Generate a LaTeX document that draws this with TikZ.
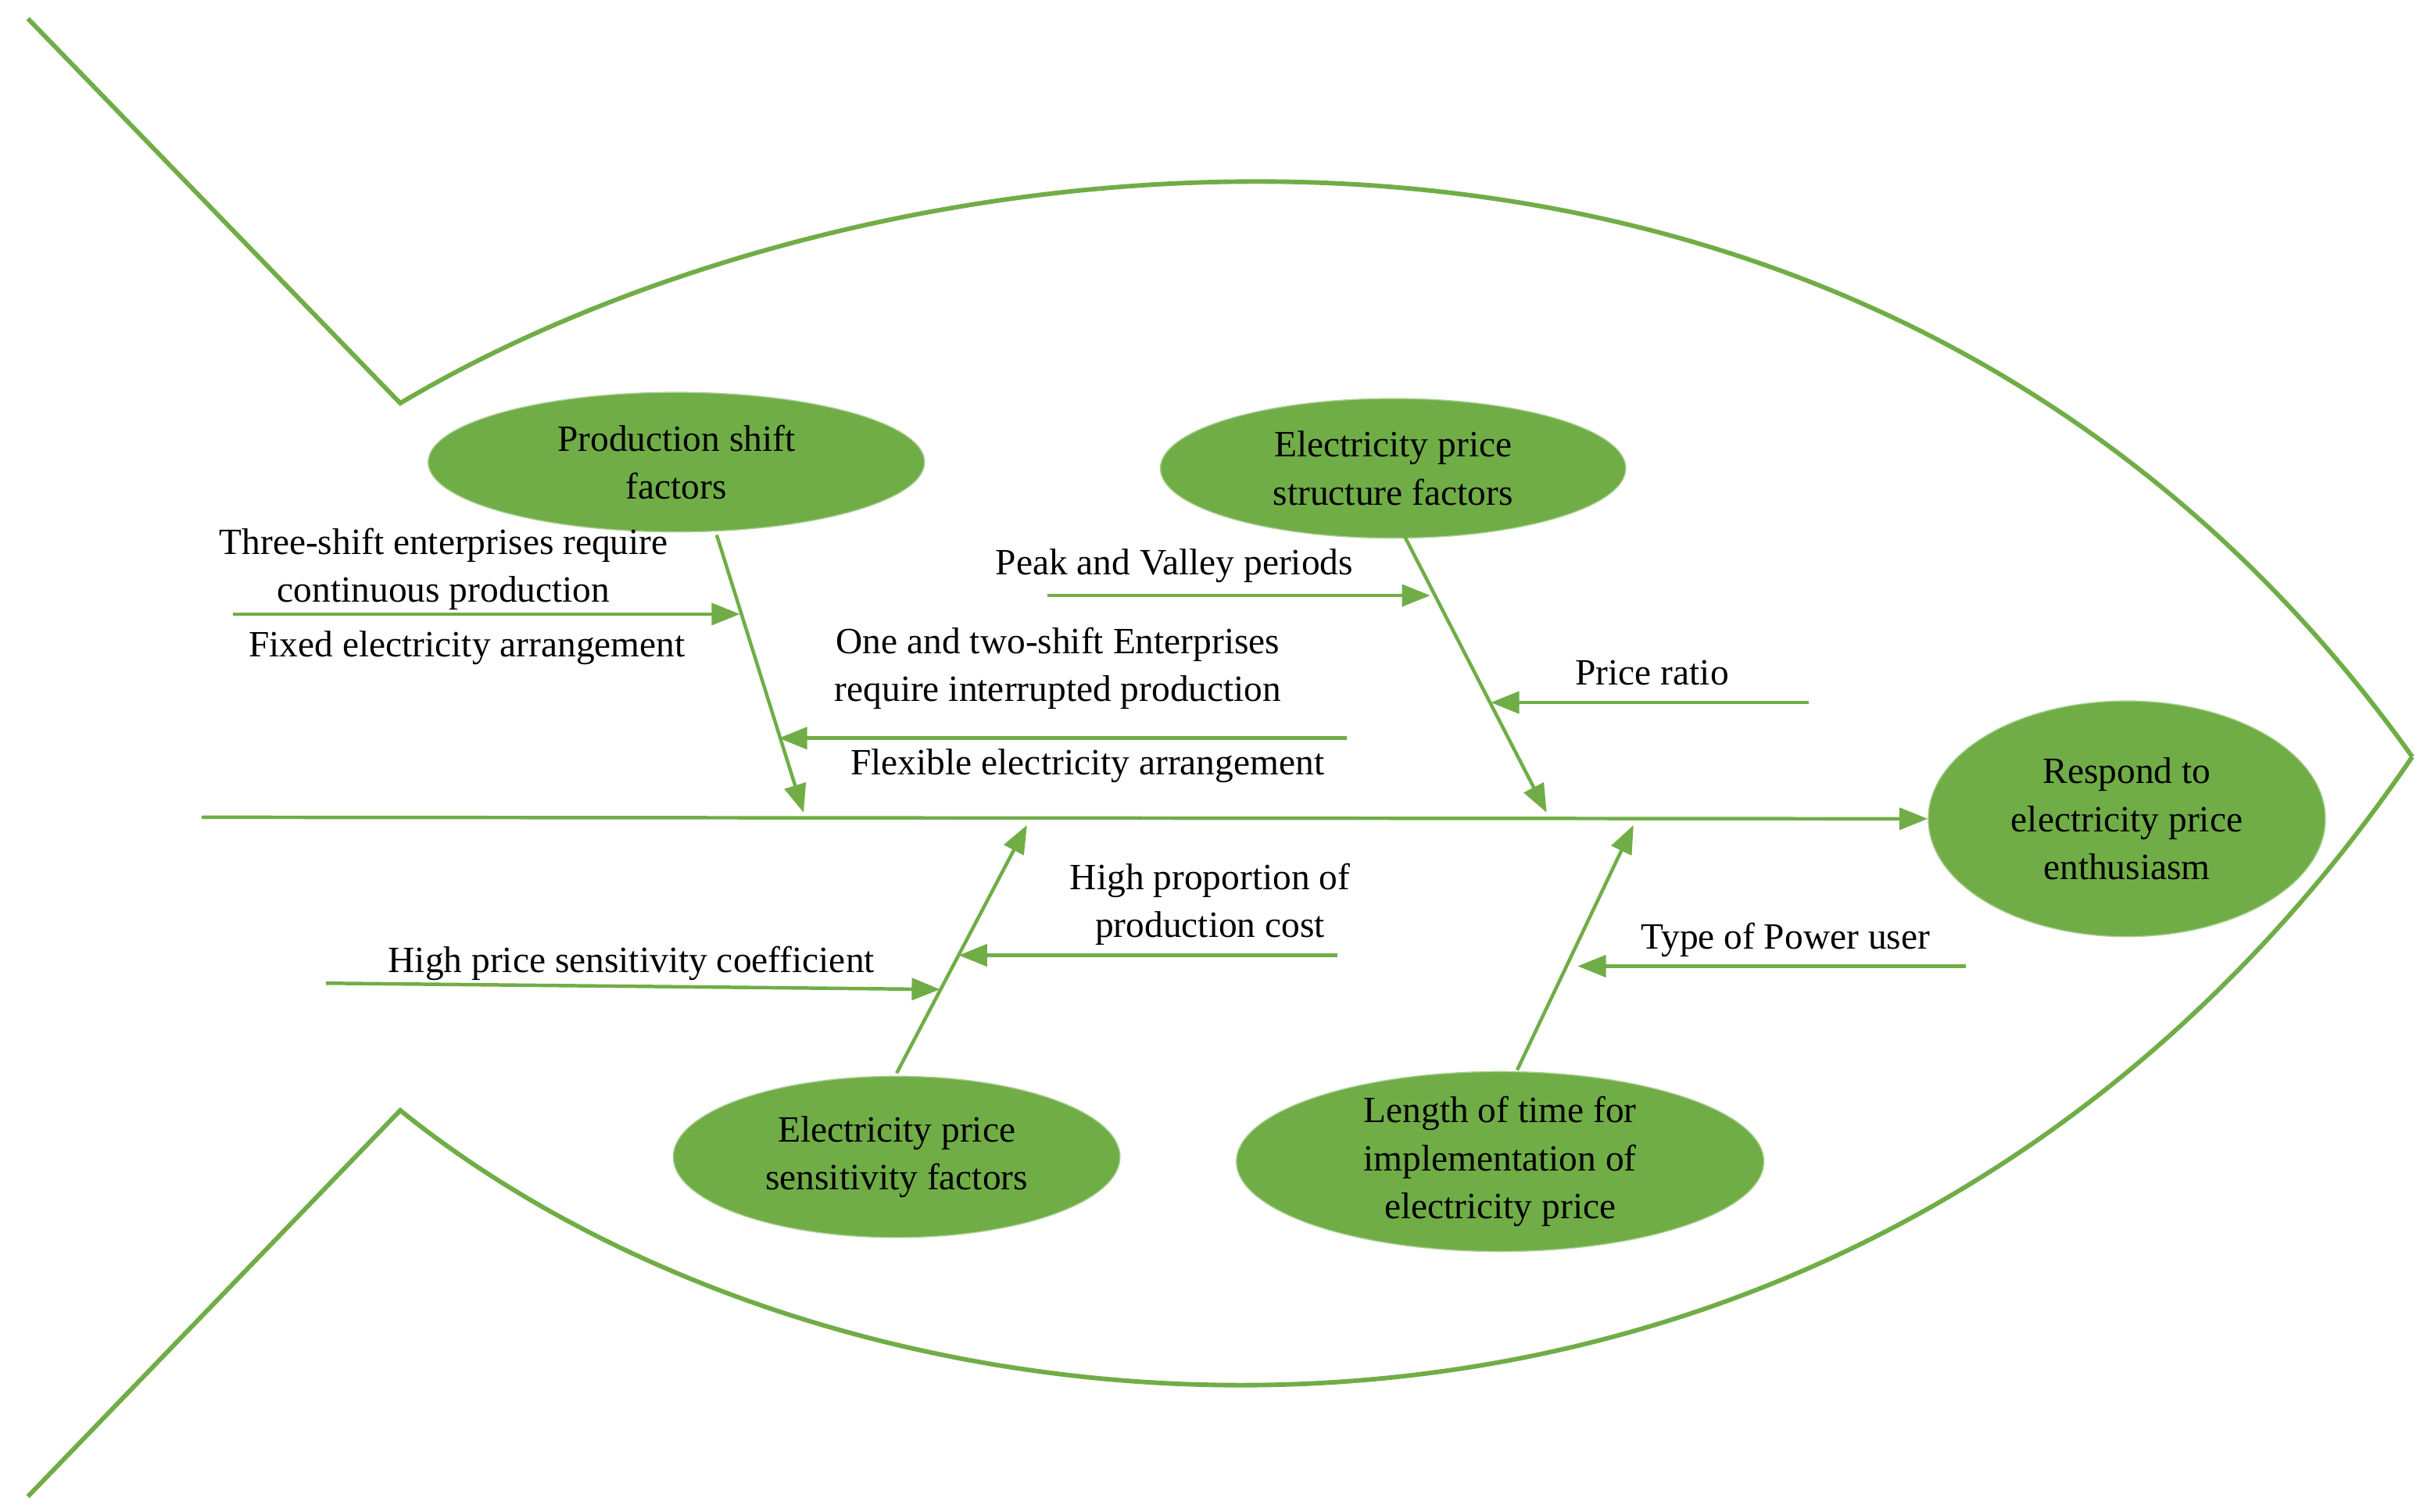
\documentclass[tikz,border=0pt]{standalone}
\usepackage{fontspec}
\setmainfont{Liberation Serif}
\usetikzlibrary{arrows.meta,shapes.geometric}
\definecolor{fg}{HTML}{70AD47}
\begin{document}
\begin{tikzpicture}[x=0.05cm,y=-0.05cm,
  ln/.style={draw=fg,line width=4.2pt},
  ar/.style={draw=fg,line width=3.2pt,-{Triangle[length=26pt,width=20pt]}},
  ov/.style={ellipse,fill=fg,draw=fg!60!white,line width=1pt,align=center,inner sep=0pt},
  tx/.style={font=\fontsize{34}{44}\selectfont,align=center,inner sep=0pt}]
\useasboundingbox (0,0) rectangle (1560,975);
\coordinate (t0) at (18,12); \coordinate (t1) at (258,260); \coordinate (nose) at (1555,488);
\coordinate (b0) at (18,965); \coordinate (b1) at (258,716);
\draw[ln] (t0) -- (t1) .. controls (560,80) and (1200,-10) .. (nose);
\draw[ln] (b0) -- (b1) .. controls (560,960) and (1200,1010) .. (nose);
\node[ov,minimum width=320\pgflinewidth] (p) at (436,298) {};
\node[ov,minimum width=16cm,minimum height=4.5cm] (p) at (436,298) {};
\node[tx] at (436,298) {Production shift\\factors};
\node[ov,minimum width=15cm,minimum height=4.5cm] (s) at (898,302) {};
\node[tx] at (898,302) {Electricity price\\structure factors};
\node[ov,minimum width=12.8cm,minimum height=7.6cm] (r) at (1371,528) {};
\node[tx] at (1371,528) {Respond to\\electricity price\\enthusiasm};
\node[ov,minimum width=14.4cm,minimum height=5.2cm] (e) at (578,746) {};
\node[tx] at (578,746) {Electricity price\\sensitivity factors};
\node[ov,minimum width=17cm,minimum height=5.8cm] (l) at (967,749) {};
\node[tx] at (967,749) {Length of time for\\implementation of\\electricity price};
\coordinate (sp0) at (130,527);
\draw[ar] (sp0) -- (r.west);
\coordinate (a1) at (462,345); \coordinate (a2) at (518,524);
\coordinate (b1s) at (905,345); \coordinate (b2) at (997,524);
\coordinate (c1) at (578,692); \coordinate (c2) at (662,532);
\coordinate (d1) at (978,690); \coordinate (d2) at (1053,532);
\draw[ar] (a1) -- (a2); \draw[ar] (b1s) -- (b2);
\draw[ar] (c1) -- (c2); \draw[ar] (d1) -- (d2);
\coordinate (u1) at (150,396); \coordinate (u2) at (477,396);
\coordinate (v1) at (868,476); \coordinate (v2) at (502,476);
\coordinate (w1) at (675,384); \coordinate (w2) at (922,384);
\coordinate (x1) at (1166,453); \coordinate (x2) at (961,453);
\coordinate (y1) at (862,616); \coordinate (y2) at (618,616);
\coordinate (z1) at (210,634); \coordinate (z2) at (606,638);
\coordinate (q1) at (1267,623); \coordinate (q2) at (1017,623);
\foreach \s/\e in {u1/u2,v1/v2,w1/w2,x1/x2,y1/y2,z1/z2,q1/q2} \draw[ar] (\s) -- (\e);
\node[tx] at (286,367) {Three-shift enterprises require\\continuous production};
\node[tx] at (301,418) {Fixed electricity arrangement};
\node[tx] at (682,431) {One and two-shift Enterprises\\require interrupted production};
\node[tx] at (701,494) {Flexible electricity arrangement};
\node[tx] at (757,365) {Peak and Valley periods};
\node[tx] at (1065,434) {Price ratio};
\node[tx] at (780,583) {High proportion of\\production cost};
\node[tx] at (407,621) {High price sensitivity coefficient};
\node[tx] at (1151,606) {Type of Power user};
\end{tikzpicture}
\end{document}
